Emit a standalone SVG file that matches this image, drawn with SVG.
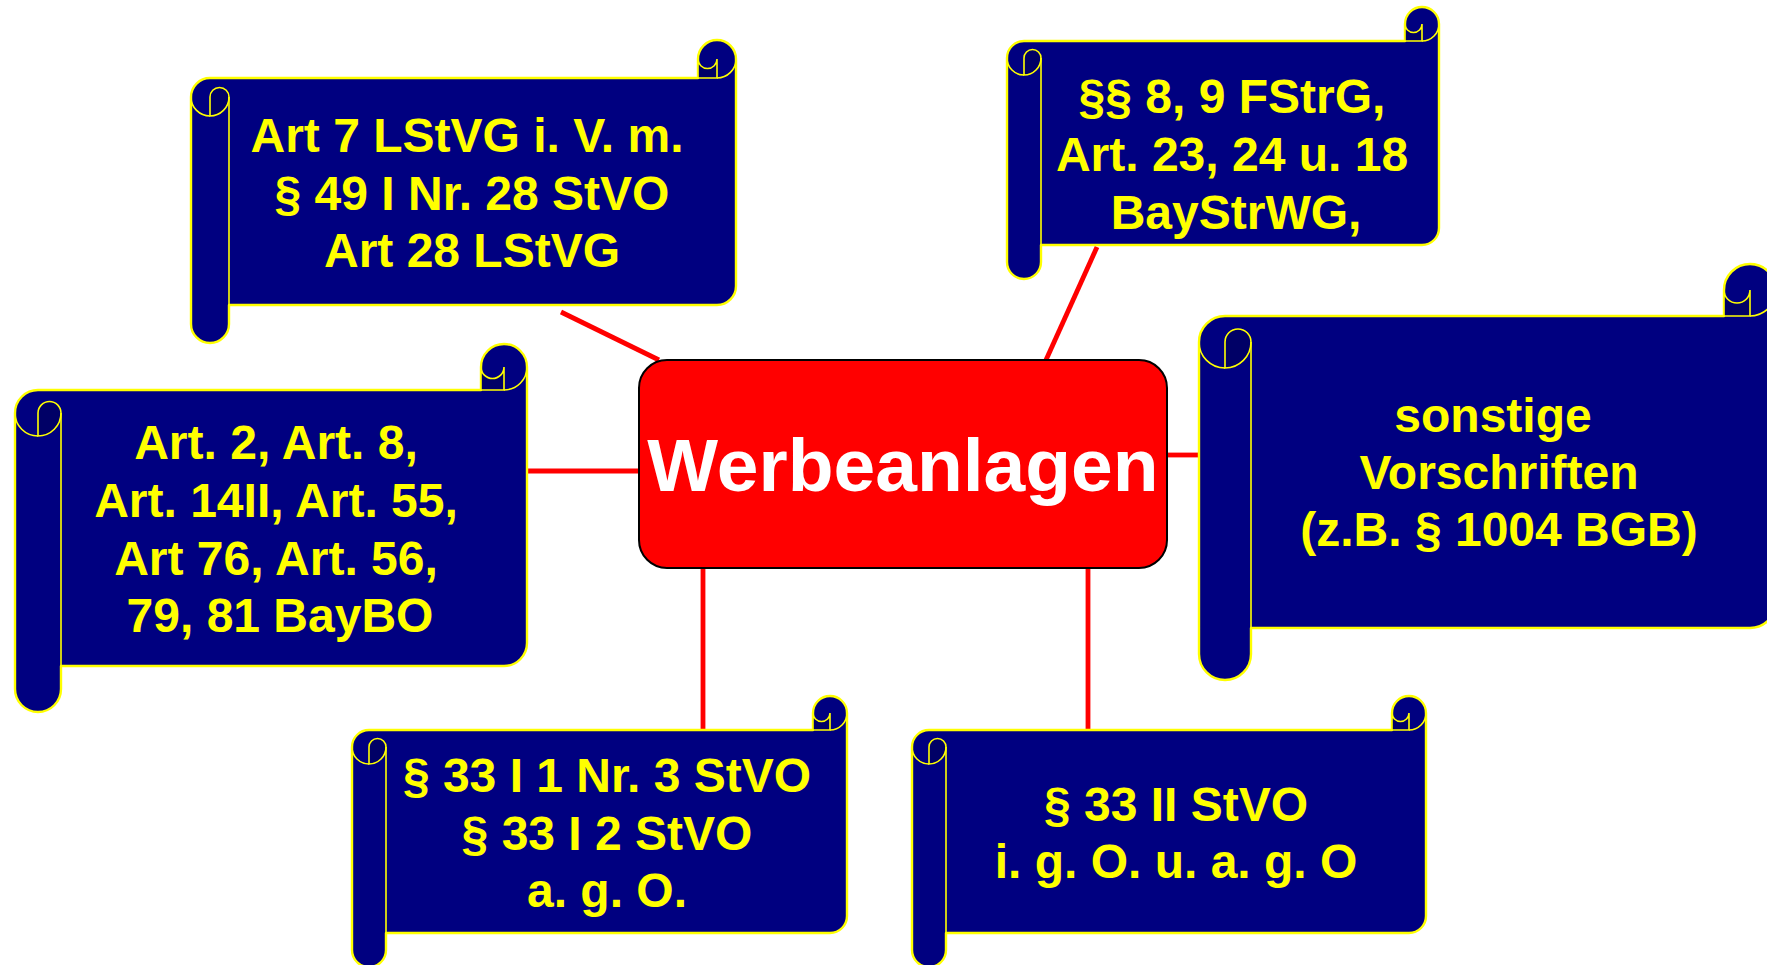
<svg xmlns="http://www.w3.org/2000/svg" width="1767" height="965" viewBox="0 0 1767 965">
<style>
.body{fill:#000080;stroke:#FFFF00;stroke-width:2.4;stroke-linejoin:round}
.dark{fill:#000066;stroke:#FFFF00;stroke-width:1.6}
.ln{fill:none;stroke:#FFFF00;stroke-width:1.6}
.t{font-family:"Liberation Sans",Arial,sans-serif;font-weight:bold;fill:#FFFF00;text-anchor:middle}
.con{stroke:#FF0000;stroke-width:4.8;fill:none}
</style>
<rect width="1767" height="965" fill="#FFFFFF"/>
<g id="connectors">
<line class="con" x1="561" y1="312" x2="659" y2="360"/>
<line class="con" x1="1097" y1="247" x2="1046" y2="360"/>
<line class="con" x1="527" y1="471" x2="639" y2="471"/>
<line class="con" x1="1167" y1="455" x2="1199" y2="455"/>
<line class="con" x1="703" y1="568" x2="703" y2="729"/>
<line class="con" x1="1088" y1="568" x2="1088" y2="729"/>
</g>
<g id="center">
<rect x="639" y="360" width="528" height="208" rx="28" ry="28" fill="#FF0000" stroke="#000000" stroke-width="2"/>
<text x="903" y="491" font-family="Liberation Sans, Arial, sans-serif" font-weight="bold" font-size="75" fill="#FFFFFF" text-anchor="middle">Werbeanlagen</text>
</g>
<g id="scroll1">
<path class="body" d="M210,78 H698 V59 A19,19 0 0 1 736,59 V286 A19,19 0 0 1 717,305 H229 V324 A19,19 0 0 1 191,324 V97 A19,19 0 0 1 210,78 Z"/>
<path class="dark" d="M698,59 A9.5,9.5 0 0 0 717,59 V78 H698 Z"/>
<path class="ln" d="M736,59 A19,19 0 0 1 717,78"/>
<path class="dark" d="M210,116 V97 A9.5,9.5 0 0 1 229,97 A19,19 0 0 1 210,116 Z"/>
<path class="ln" d="M191,97 A19,19 0 0 0 210,116 M229,97 V305"/>
<text class="t" font-size="48"><tspan x="467" y="152">Art 7 LStVG i. V. m.</tspan><tspan x="472" y="209.5">§ 49 I Nr. 28 StVO</tspan><tspan x="472" y="267">Art 28 LStVG</tspan></text>
</g>
<g id="scroll2">
<path class="body" d="M1024,41 H1405 V24 A17,17 0 0 1 1439,24 V228 A17,17 0 0 1 1422,245 H1041 V262 A17,17 0 0 1 1007,262 V58 A17,17 0 0 1 1024,41 Z"/>
<path class="dark" d="M1405,24 A8.5,8.5 0 0 0 1422,24 V41 H1405 Z"/>
<path class="ln" d="M1439,24 A17,17 0 0 1 1422,41"/>
<path class="dark" d="M1024,75 V58 A8.5,8.5 0 0 1 1041,58 A17,17 0 0 1 1024,75 Z"/>
<path class="ln" d="M1007,58 A17,17 0 0 0 1024,75 M1041,58 V245"/>
<text class="t" font-size="48"><tspan x="1232" y="113">§§ 8, 9 FStrG,</tspan><tspan x="1232" y="171">Art. 23, 24 u. 18</tspan><tspan x="1236" y="229">BayStrWG,</tspan></text>
</g>
<g id="scroll3">
<path class="body" d="M38,390 H481 V367 A23,23 0 0 1 527,367 V643 A23,23 0 0 1 504,666 H61 V689 A23,23 0 0 1 15,689 V413 A23,23 0 0 1 38,390 Z"/>
<path class="dark" d="M481,367 A11.5,11.5 0 0 0 504,367 V390 H481 Z"/>
<path class="ln" d="M527,367 A23,23 0 0 1 504,390"/>
<path class="dark" d="M38,436 V413 A11.5,11.5 0 0 1 61,413 A23,23 0 0 1 38,436 Z"/>
<path class="ln" d="M15,413 A23,23 0 0 0 38,436 M61,413 V666"/>
<text class="t" font-size="48"><tspan x="276" y="459">Art. 2, Art. 8,</tspan><tspan x="276" y="517">Art. 14II, Art. 55,</tspan><tspan x="276" y="575">Art 76, Art. 56,</tspan><tspan x="280" y="632">79, 81 BayBO</tspan></text>
</g>
<g id="scroll4">
<path class="body" d="M1225,316 H1724 V290 A26,26 0 0 1 1776,290 V602 A26,26 0 0 1 1750,628 H1251 V654 A26,26 0 0 1 1199,654 V342 A26,26 0 0 1 1225,316 Z"/>
<path class="dark" d="M1724,290 A13,13 0 0 0 1750,290 V316 H1724 Z"/>
<path class="ln" d="M1776,290 A26,26 0 0 1 1750,316"/>
<path class="dark" d="M1225,368 V342 A13,13 0 0 1 1251,342 A26,26 0 0 1 1225,368 Z"/>
<path class="ln" d="M1199,342 A26,26 0 0 0 1225,368 M1251,342 V628"/>
<text class="t" font-size="48"><tspan x="1493" y="432">sonstige</tspan><tspan x="1499" y="489">Vorschriften</tspan><tspan x="1499" y="546">(z.B. § 1004 BGB)</tspan></text>
</g>
<g id="scroll5">
<path class="body" d="M369,730 H813 V713 A17,17 0 0 1 847,713 V916 A17,17 0 0 1 830,933 H386 V950 A17,17 0 0 1 352,950 V747 A17,17 0 0 1 369,730 Z"/>
<path class="dark" d="M813,713 A8.5,8.5 0 0 0 830,713 V730 H813 Z"/>
<path class="ln" d="M847,713 A17,17 0 0 1 830,730"/>
<path class="dark" d="M369,764 V747 A8.5,8.5 0 0 1 386,747 A17,17 0 0 1 369,764 Z"/>
<path class="ln" d="M352,747 A17,17 0 0 0 369,764 M386,747 V933"/>
<text class="t" font-size="48"><tspan x="607" y="792">§ 33 I 1 Nr. 3 StVO</tspan><tspan x="607" y="850">§ 33 I 2 StVO</tspan><tspan x="607" y="907">a. g. O.</tspan></text>
</g>
<g id="scroll6">
<path class="body" d="M929,730 H1392 V713 A17,17 0 0 1 1426,713 V916 A17,17 0 0 1 1409,933 H946 V950 A17,17 0 0 1 912,950 V747 A17,17 0 0 1 929,730 Z"/>
<path class="dark" d="M1392,713 A8.5,8.5 0 0 0 1409,713 V730 H1392 Z"/>
<path class="ln" d="M1426,713 A17,17 0 0 1 1409,730"/>
<path class="dark" d="M929,764 V747 A8.5,8.5 0 0 1 946,747 A17,17 0 0 1 929,764 Z"/>
<path class="ln" d="M912,747 A17,17 0 0 0 929,764 M946,747 V933"/>
<text class="t" font-size="48"><tspan x="1176" y="821">§ 33 II StVO</tspan><tspan x="1176" y="878">i. g. O. u. a. g. O</tspan></text>
</g>
</svg>
